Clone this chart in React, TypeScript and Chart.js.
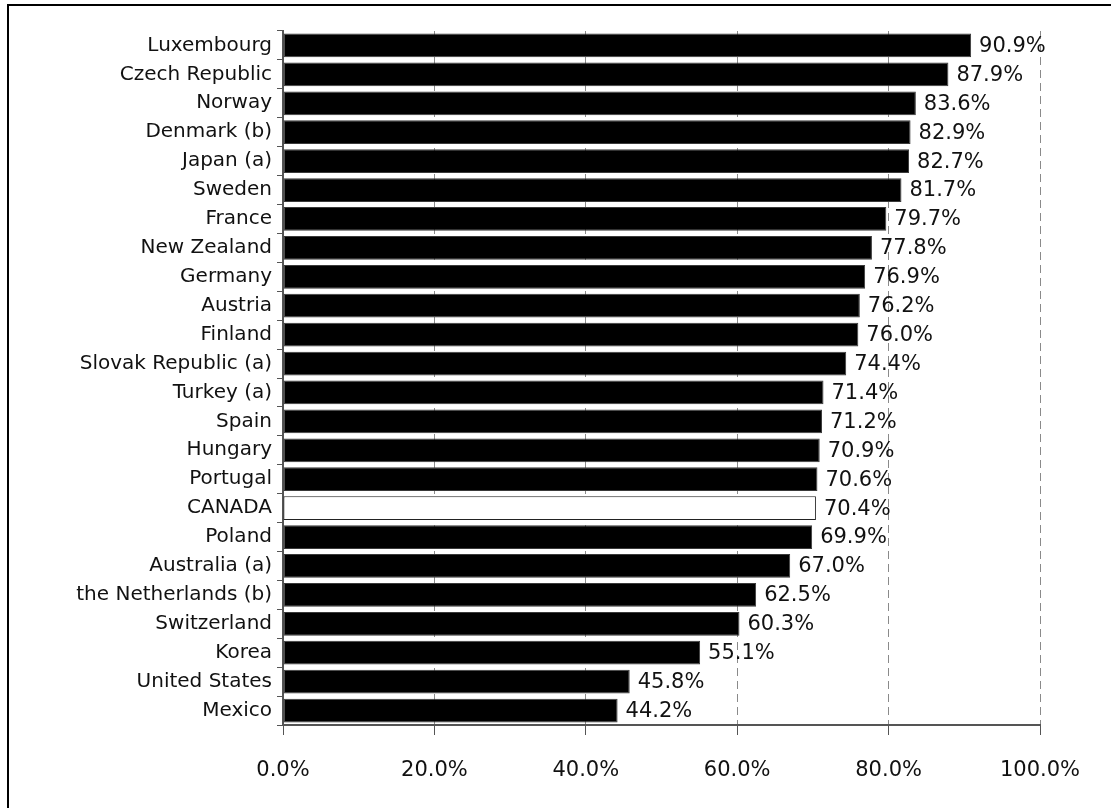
import React, { useEffect, useRef } from "react";
import { Chart, registerables } from "chart.js";

Chart.register(...registerables);

const countries = [
  "Luxembourg", "Czech Republic", "Norway", "Denmark (b)", "Japan (a)", "Sweden",
  "France", "New Zealand", "Germany", "Austria", "Finland", "Slovak Republic (a)",
  "Turkey (a)", "Spain", "Hungary", "Portugal", "CANADA", "Poland", "Australia (a)",
  "the Netherlands (b)", "Switzerland", "Korea", "United States", "Mexico",
];
const shares = [
  90.9, 87.9, 83.6, 82.9, 82.7, 81.7, 79.7, 77.8, 76.9, 76.2, 76.0, 74.4,
  71.4, 71.2, 70.9, 70.6, 70.4, 69.9, 67.0, 62.5, 60.3, 55.1, 45.8, 44.2,
];
const highlight = "CANADA";
const xTicks = [0, 20, 40, 60, 80, 100];

const FONT = "'DejaVu Sans', sans-serif";

const valueLabels = {
  id: "valueLabels",
  afterDatasetsDraw(chart: any) {
    const ctx = chart.ctx;
    const meta = chart.getDatasetMeta(0);
    ctx.save();
    ctx.font = `21px ${FONT}`;
    ctx.fillStyle = "#111";
    ctx.textAlign = "left";
    ctx.textBaseline = "middle";
    meta.data.forEach((bar: any, i: number) => {
      ctx.fillText(shares[i].toFixed(1) + "%", bar.x + 8, bar.y + 1);
    });
    ctx.restore();
  },
};

export default function App() {
  const ref = useRef<HTMLCanvasElement | null>(null);
  useEffect(() => {
    if (!ref.current) return;
    const chart = new Chart(ref.current, {
      type: "bar",
      data: {
        labels: countries,
        datasets: [
          {
            data: shares,
            backgroundColor: countries.map((c) => (c === highlight ? "#ffffff" : "#000000")),
            borderColor: countries.map((c) => (c === highlight ? "#222222" : "#3a3a3a")),
            borderWidth: 1,
            borderSkipped: false,
            barPercentage: 0.82,
            categoryPercentage: 1,
          },
        ],
      },
      options: {
        indexAxis: "y",
        animation: false,
        responsive: false,
        events: [],
        layout: { padding: { top: 31, right: 71, bottom: 23, left: 0 } },
        plugins: { legend: { display: false }, tooltip: { enabled: false }, title: { display: false } },
        scales: {
          x: {
            min: 0,
            max: 100,
            afterBuildTicks(scale: any) {
              scale.ticks = xTicks.map((v) => ({ value: v }));
            },
            afterFit(scale: any) { scale.height = 60; },
            ticks: {
              color: "#111",
              font: { family: FONT, size: 21 },
              padding: 23,
              maxRotation: 0,
              callback: (v: any) => Number(v).toFixed(1) + "%",
            },
            grid: {
              color: (c: any) => (c.tick && c.tick.value === 0 ? "rgba(0,0,0,0)" : "#8a8a8a"),
              tickColor: "#555",
              tickLength: 10,
              tickBorderDash: [],
              lineWidth: 1,
            },
            border: { display: true, color: "#555", width: 2, dash: [8, 5] },
          },
          y: {
            afterFit(scale: any) { scale.width = 283; },
            ticks: {
              color: "#111",
              font: { family: FONT, size: 20 },
              padding: 5,
              autoSkip: false,
            },
            grid: {
              drawOnChartArea: false,
              offset: true,
              tickLength: 6,
              tickColor: "#555",
              color: "#555",
            },
            border: { display: true, color: "#555", width: 2 },
          },
        },
      },
      plugins: [valueLabels],
    } as any);
    return () => chart.destroy();
  }, []);

  return (
    <div style={{ position: "absolute", left: 0, top: 0, width: 1111, height: 808, background: "#fff" }}>
      <canvas ref={ref} width={1111} height={808} style={{ position: "absolute", left: 0, top: 0, width: 1111, height: 808 }} />
      <div
        style={{
          position: "absolute",
          left: 7,
          top: 4,
          right: 0,
          bottom: 0,
          borderTop: "2px solid #000",
          borderLeft: "2px solid #000",
          pointerEvents: "none",
        }}
      />
    </div>
  );
}
